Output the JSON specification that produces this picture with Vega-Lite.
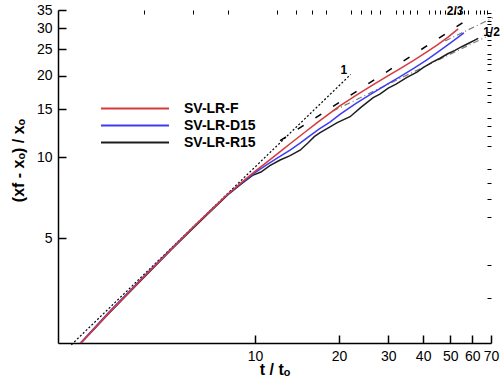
{
  "$schema": "https://vega.github.io/schema/vega-lite/v6.json",
  "width": 433,
  "height": 333,
  "autosize": {"type": "none"},
  "padding": {"left": 58, "top": 10, "right": 10, "bottom": 38},
  "background": "white",
  "config": {
    "view": {"stroke": null},
    "font": "Liberation Sans",
    "axis": {
      "domainColor": "black",
      "domainWidth": 1.5,
      "tickColor": "black",
      "labelColor": "black",
      "titleColor": "black",
      "grid": false,
      "labelFont": "Liberation Sans",
      "titleFont": "Liberation Sans"
    }
  },
  "datasets": {
    "main": [
      {"t": 2.36, "v": 2.03, "s": "SV-LR-R15"}, {"t": 3, "v": 2.64, "s": "SV-LR-R15"}, {"t": 4, "v": 3.58, "s": "SV-LR-R15"}, {"t": 5, "v": 4.53, "s": "SV-LR-R15"}, {"t": 6, "v": 5.45, "s": "SV-LR-R15"}, {"t": 7, "v": 6.35, "s": "SV-LR-R15"}, {"t": 8, "v": 7.25, "s": "SV-LR-R15"}, {"t": 9, "v": 8.0, "s": "SV-LR-R15"}, {"t": 9.8, "v": 8.55, "s": "SV-LR-R15"}, {"t": 10.5, "v": 8.8, "s": "SV-LR-R15"}, {"t": 11.3, "v": 9.3, "s": "SV-LR-R15"}, {"t": 12.3, "v": 9.75, "s": "SV-LR-R15"}, {"t": 13.3, "v": 10.1, "s": "SV-LR-R15"}, {"t": 14.5, "v": 10.6, "s": "SV-LR-R15"}, {"t": 15.5, "v": 11.3, "s": "SV-LR-R15"}, {"t": 16.3, "v": 11.9, "s": "SV-LR-R15"}, {"t": 17.1, "v": 12.3, "s": "SV-LR-R15"}, {"t": 18.5, "v": 12.9, "s": "SV-LR-R15"}, {"t": 19.7, "v": 13.4, "s": "SV-LR-R15"}, {"t": 21.9, "v": 14.1, "s": "SV-LR-R15"}, {"t": 24, "v": 15.3, "s": "SV-LR-R15"}, {"t": 26.5, "v": 16.6, "s": "SV-LR-R15"}, {"t": 28, "v": 17.1, "s": "SV-LR-R15"}, {"t": 30, "v": 18.0, "s": "SV-LR-R15"}, {"t": 32, "v": 18.6, "s": "SV-LR-R15"}, {"t": 35, "v": 19.7, "s": "SV-LR-R15"}, {"t": 38, "v": 20.6, "s": "SV-LR-R15"}, {"t": 40, "v": 21.4, "s": "SV-LR-R15"}, {"t": 43, "v": 22.4, "s": "SV-LR-R15"}, {"t": 46, "v": 23.2, "s": "SV-LR-R15"}, {"t": 49, "v": 24.1, "s": "SV-LR-R15"}, {"t": 52, "v": 24.8, "s": "SV-LR-R15"}, {"t": 55, "v": 25.6, "s": "SV-LR-R15"}, {"t": 58, "v": 26.3, "s": "SV-LR-R15"}, {"t": 61, "v": 27.0, "s": "SV-LR-R15"}, {"t": 63, "v": 27.5, "s": "SV-LR-R15"},
      {"t": 2.36, "v": 2.04, "s": "SV-LR-D15"}, {"t": 3, "v": 2.67, "s": "SV-LR-D15"}, {"t": 4, "v": 3.62, "s": "SV-LR-D15"}, {"t": 5, "v": 4.57, "s": "SV-LR-D15"}, {"t": 6, "v": 5.5, "s": "SV-LR-D15"}, {"t": 7, "v": 6.4, "s": "SV-LR-D15"}, {"t": 8, "v": 7.28, "s": "SV-LR-D15"}, {"t": 9, "v": 8.05, "s": "SV-LR-D15"}, {"t": 10, "v": 8.75, "s": "SV-LR-D15"}, {"t": 11, "v": 9.35, "s": "SV-LR-D15"}, {"t": 12, "v": 9.9, "s": "SV-LR-D15"}, {"t": 13.35, "v": 10.6, "s": "SV-LR-D15"}, {"t": 14.5, "v": 11.25, "s": "SV-LR-D15"}, {"t": 15.75, "v": 12.0, "s": "SV-LR-D15"}, {"t": 17, "v": 12.7, "s": "SV-LR-D15"}, {"t": 18.6, "v": 13.5, "s": "SV-LR-D15"}, {"t": 20.2, "v": 14.4, "s": "SV-LR-D15"}, {"t": 23, "v": 15.8, "s": "SV-LR-D15"}, {"t": 26, "v": 17.1, "s": "SV-LR-D15"}, {"t": 30, "v": 18.7, "s": "SV-LR-D15"}, {"t": 33, "v": 19.8, "s": "SV-LR-D15"}, {"t": 37, "v": 21.3, "s": "SV-LR-D15"}, {"t": 41, "v": 22.8, "s": "SV-LR-D15"}, {"t": 45, "v": 24.4, "s": "SV-LR-D15"}, {"t": 50, "v": 26.4, "s": "SV-LR-D15"}, {"t": 56, "v": 28.8, "s": "SV-LR-D15"},
      {"t": 2.36, "v": 2.03, "s": "SV-LR-F"}, {"t": 3, "v": 2.65, "s": "SV-LR-F"}, {"t": 4, "v": 3.6, "s": "SV-LR-F"}, {"t": 5, "v": 4.55, "s": "SV-LR-F"}, {"t": 6, "v": 5.5, "s": "SV-LR-F"}, {"t": 7, "v": 6.4, "s": "SV-LR-F"}, {"t": 8, "v": 7.3, "s": "SV-LR-F"}, {"t": 9, "v": 8.1, "s": "SV-LR-F"}, {"t": 10, "v": 8.85, "s": "SV-LR-F"}, {"t": 11, "v": 9.55, "s": "SV-LR-F"}, {"t": 12.5, "v": 10.6, "s": "SV-LR-F"}, {"t": 13.35, "v": 11.2, "s": "SV-LR-F"}, {"t": 15, "v": 12.3, "s": "SV-LR-F"}, {"t": 16.7, "v": 13.4, "s": "SV-LR-F"}, {"t": 18, "v": 14.2, "s": "SV-LR-F"}, {"t": 20, "v": 15.4, "s": "SV-LR-F"}, {"t": 23, "v": 16.9, "s": "SV-LR-F"}, {"t": 26, "v": 18.3, "s": "SV-LR-F"}, {"t": 30, "v": 20.0, "s": "SV-LR-F"}, {"t": 33, "v": 21.2, "s": "SV-LR-F"}, {"t": 37, "v": 22.8, "s": "SV-LR-F"}, {"t": 41, "v": 24.4, "s": "SV-LR-F"}, {"t": 45, "v": 26.0, "s": "SV-LR-F"}, {"t": 49, "v": 27.7, "s": "SV-LR-F"}, {"t": 53.4, "v": 29.8, "s": "SV-LR-F"}
    ],
    "refs": [
      {"t": 2.2, "v": 2.02, "ref": "slope1"}, {"t": 22, "v": 20.2, "ref": "slope1"},
      {"t": 12.3, "v": 11.5, "ref": "slope23"}, {"t": 60, "v": 33.1, "ref": "slope23"},
      {"t": 19, "v": 14.8, "ref": "slope12a"}, {"t": 67, "v": 27.8, "ref": "slope12a"},
      {"t": 48, "v": 26.9, "ref": "slope12b"}, {"t": 71, "v": 32.7, "ref": "slope12b"}
    ],
    "labels": [
      {"t": 20.8, "v": 21.0, "label": "1"},
      {"t": 52.1, "v": 34.7, "label": "2/3"},
      {"t": 70.3, "v": 29.0, "label": "1/2"}
    ]
  },
  "layer": [
    {
      "data": {"name": "refs"},
      "transform": [{"filter": "datum.ref === 'slope1'"}],
      "mark": {"type": "line", "color": "black", "strokeWidth": 1.2, "strokeDash": [2, 2]},
      "encoding": {
        "x": {"field": "t", "type": "quantitative", "scale": {"type": "log", "domain": [1.97, 70], "nice": false}, "axis": null},
        "y": {"field": "v", "type": "quantitative", "scale": {"type": "log", "domain": [2.05, 35], "nice": false}, "axis": null}
      }
    },
    {
      "data": {"name": "refs"},
      "transform": [{"filter": "datum.ref === 'slope23'"}],
      "mark": {"type": "line", "color": "black", "strokeWidth": 1.5, "strokeDash": [7, 14]},
      "encoding": {
        "x": {"field": "t", "type": "quantitative", "axis": null},
        "y": {"field": "v", "type": "quantitative", "axis": null}
      }
    },
    {
      "data": {"name": "refs"},
      "transform": [{"filter": "datum.ref === 'slope12a' || datum.ref === 'slope12b'"}],
      "mark": {"type": "line", "color": "#7a7a7a", "strokeWidth": 1.2, "strokeDash": [6, 3, 1, 3]},
      "encoding": {
        "x": {"field": "t", "type": "quantitative", "axis": null},
        "y": {"field": "v", "type": "quantitative", "axis": null},
        "detail": {"field": "ref"}
      }
    },
    {
      "data": {"name": "main"},
      "mark": {"type": "line", "strokeWidth": 1.5, "clip": true},
      "encoding": {
        "x": {"field": "t", "type": "quantitative", "title": "t / tₒ",
          "axis": {"values": [10, 20, 30, 40, 50, 60, 70], "format": "d", "tickSize": -8, "tickWidth": 1.5, "labelPadding": 14, "labelFontSize": 14, "titleFontSize": 16, "titleFontWeight": "bold", "titlePadding": -2, "labelFlush": false, "labelOverlap": false}},
        "y": {"field": "v", "type": "quantitative", "title": "(xf - xₒ) / xₒ",
          "axis": {"values": [5, 10, 15, 20, 25, 30, 35], "format": "d", "tickSize": -8, "tickWidth": 1.5, "labelPadding": 14, "labelFontSize": 14, "titleFontSize": 16, "titleFontWeight": "bold", "titlePadding": 10, "titleY": 150, "labelFlush": false, "labelOverlap": false}},
        "color": {"field": "s", "type": "nominal",
          "scale": {"domain": ["SV-LR-F", "SV-LR-D15", "SV-LR-R15"], "range": ["#d63a3a", "#3d3df2", "#1e1e1e"]},
          "legend": {"orient": "none", "legendX": 67.5, "legendY": 89, "title": null, "symbolType": "M-4,0H4", "symbolSize": 289, "symbolStrokeWidth": 2, "labelFontSize": 14, "labelFontWeight": "bold", "labelOffset": 39.5, "rowPadding": 0, "labelFont": "Liberation Sans", "labelColor": "black"}},
        "order": {"field": "t", "type": "quantitative"}
      }
    },
    {
      "data": {"name": "main"},
      "mark": {"type": "point", "opacity": 0},
      "encoding": {
        "x": {"field": "t", "type": "quantitative", "title": null,
          "axis": {"values": [4, 6, 8, 12, 14, 16, 18, 22, 24, 26, 28, 32, 34, 36, 38, 42, 44, 46, 48, 52, 54, 56, 58, 62, 64, 66, 68], "tickSize": -4, "tickWidth": 1, "labels": false, "domain": false}},
        "y": {"field": "v", "type": "quantitative", "title": null,
          "axis": {"values": [3, 4, 6, 7, 8, 9, 11, 12, 13, 14, 16, 17, 18, 19, 21, 22, 23, 24, 26, 27, 28, 29, 31, 32, 33, 34], "tickSize": -4, "tickWidth": 1, "labels": false, "domain": false}}
      }
    },
    {
      "data": {"name": "labels"},
      "mark": {"type": "text", "fontWeight": "bold", "fontSize": 12, "baseline": "middle", "align": "center", "font": "Liberation Sans", "color": "black"},
      "encoding": {
        "x": {"field": "t", "type": "quantitative", "axis": null},
        "y": {"field": "v", "type": "quantitative", "axis": null},
        "text": {"field": "label"}
      }
    }
  ],
  "resolve": {"axis": {"x": "independent", "y": "independent"}}
}
